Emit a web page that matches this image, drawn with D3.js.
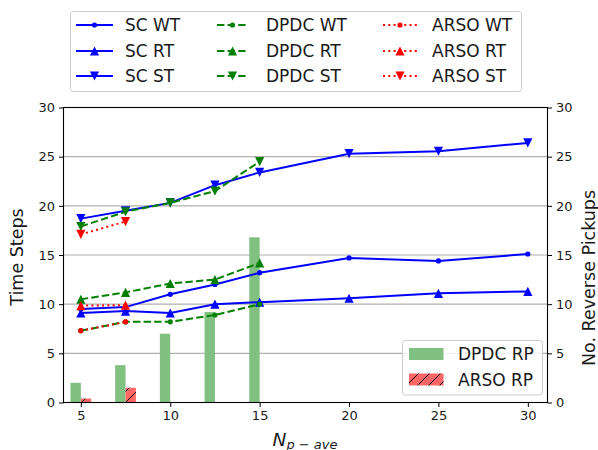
<!DOCTYPE html>
<html>
<head>
<meta charset="utf-8">
<script src="https://cdn.jsdelivr.net/npm/d3@7"></script>
<style>
body{margin:0;background:#fff;}
text{font-family:"DejaVu Sans",sans-serif;fill:#1a1a1a;}
</style>
</head>
<body>
<script>
// data
var xsSC=[5,7.5,10,12.5,15,20,25,30];
var scWT=[9.5,9.7,11.0,12.0,13.2,14.7,14.4,15.1];
var scRT=[9.1,9.3,9.1,10.0,10.2,10.6,11.1,11.3];
var scST=[18.7,19.5,20.3,22.1,23.4,25.3,25.55,26.4];
var xsDPDC=[5,7.5,10,12.5,15];
var dpdcWT=[7.3,8.2,8.2,8.9,10.0];
var dpdcRT=[10.5,11.2,12.1,12.5,14.2];
var dpdcST=[17.9,19.4,20.3,21.5,24.5];
var xsARSO=[5,7.5];
var arsoWT=[7.3,8.2];
var arsoRT=[9.85,9.9];
var arsoST=[17.1,18.4];
var dpdcRP=[2.0,3.8,7.0,9.2,16.8];
var arsoRP=[0.4,1.5];
var xTicks=[5,10,15,20,25,30];
var yTicks=[0,5,10,15,20,25,30];

var W=598,H=450;
var pL=63.5,pR=547.5,pT=107.5,pB=402.5;
var barW=0.58;

var svg=d3.select("body").append("svg")
    .attr("width",W)
    .attr("height",H);

var x=d3.scaleLinear().domain([4.03,31.1]).range([pL,pR]);
var y=d3.scaleLinear().domain([0,30]).range([pB,pT]);
var y2=d3.scaleLinear().domain([0,30]).range([pB,pT]);

// hatch pattern for ARSO RP
var defs=svg.append("defs");
var pat=defs.append("pattern")
    .attr("id","hatch")
    .attr("patternUnits","userSpaceOnUse")
    .attr("width",11)
    .attr("height",11);
pat.append("rect").attr("width",11).attr("height",11).attr("fill","#ff6666");
pat.append("path")
    .attr("d","M-1,12 L12,-1 M-3,3 L3,-3 M8,14 L14,8")
    .attr("stroke","#000")
    .attr("stroke-width",1);

// grid
svg.append("g").selectAll("line")
    .data(yTicks.slice(1,-1))
    .enter().append("line")
    .attr("x1",pL).attr("x2",pR)
    .attr("y1",function(d){return y(d);})
    .attr("y2",function(d){return y(d);})
    .attr("stroke","#b0b0b0")
    .attr("stroke-width",1.1);

// bars (right axis)
svg.append("g").selectAll("rect")
    .data(dpdcRP)
    .enter().append("rect")
    .attr("x",function(d,i){return x(xsDPDC[i]-barW);})
    .attr("width",x(barW)-x(0))
    .attr("y",function(d){return y2(d);})
    .attr("height",function(d){return y2(0)-y2(d);})
    .attr("fill","#80c080");
svg.append("g").selectAll("rect")
    .data(arsoRP)
    .enter().append("rect")
    .attr("x",function(d,i){return x(xsARSO[i]);})
    .attr("width",x(barW)-x(0))
    .attr("y",function(d){return y2(d);})
    .attr("height",function(d){return y2(0)-y2(d);})
    .attr("fill","url(#hatch)");

// series
var series=[
  {name:"SC WT",xs:xsSC,v:scWT,col:"#0000ff",dash:null,mk:"dot"},
  {name:"SC RT",xs:xsSC,v:scRT,col:"#0000ff",dash:null,mk:"up"},
  {name:"SC ST",xs:xsSC,v:scST,col:"#0000ff",dash:null,mk:"down"},
  {name:"DPDC WT",xs:xsDPDC,v:dpdcWT,col:"#008000",dash:"7.4,3.2",mk:"dot"},
  {name:"DPDC RT",xs:xsDPDC,v:dpdcRT,col:"#008000",dash:"7.4,3.2",mk:"up"},
  {name:"DPDC ST",xs:xsDPDC,v:dpdcST,col:"#008000",dash:"7.4,3.2",mk:"down"},
  {name:"ARSO WT",xs:xsARSO,v:arsoWT,col:"#ff0000",dash:"2,3.3",mk:"dot"},
  {name:"ARSO RT",xs:xsARSO,v:arsoRT,col:"#ff0000",dash:"2,3.3",mk:"up"},
  {name:"ARSO ST",xs:xsARSO,v:arsoST,col:"#ff0000",dash:"2,3.3",mk:"down"}
];

function marker(g,type,cx,cy,col){
  var s=4.6;
  if(type=="dot"){
    g.append("circle").attr("cx",cx).attr("cy",cy).attr("r",2.6).attr("fill",col);
  }else if(type=="up"){
    g.append("path").attr("d","M"+cx+","+(cy-s)+"L"+(cx-s)+","+(cy+s)+"L"+(cx+s)+","+(cy+s)+"Z").attr("fill",col);
  }else{
    g.append("path").attr("d","M"+cx+","+(cy+s)+"L"+(cx-s)+","+(cy-s)+"L"+(cx+s)+","+(cy-s)+"Z").attr("fill",col);
  }
}

var line=d3.line().x(function(d){return x(d[0]);}).y(function(d){return y(d[1]);});
series.forEach(function(s){
  var pts=s.xs.map(function(d,i){return [d,s.v[i]];});
  var g=svg.append("g");
  g.append("path")
    .attr("d",line(pts))
    .attr("fill","none")
    .attr("stroke",s.col)
    .attr("stroke-width",2)
    .attr("stroke-dasharray",s.dash);
  pts.forEach(function(p){marker(g,s.mk,x(p[0]),y(p[1]),s.col);});
});

// frame and axes
svg.append("rect")
    .attr("x",pL).attr("y",pT)
    .attr("width",pR-pL).attr("height",pB-pT)
    .attr("fill","none").attr("stroke","#000").attr("stroke-width",1.1);

var axB=svg.append("g").attr("transform","translate(0,"+pB+")")
    .call(d3.axisBottom(x).tickValues(xTicks).tickSize(4.5).tickPadding(4));
var axL=svg.append("g").attr("transform","translate("+pL+",0)")
    .call(d3.axisLeft(y).tickValues(yTicks).tickSize(4.5).tickPadding(4));
var axR=svg.append("g").attr("transform","translate("+pR+",0)")
    .call(d3.axisRight(y2).tickValues(yTicks).tickSize(4.5).tickPadding(4));
[axB,axL,axR].forEach(function(a){
  a.select(".domain").remove();
  a.selectAll("text").style("font-size","13px").style("font-family","DejaVu Sans").attr("fill","#1a1a1a");
  a.selectAll("line").attr("stroke","#000");
});

// axis titles
svg.append("text")
    .attr("transform","translate(23,257) rotate(-90)")
    .attr("text-anchor","middle")
    .style("font-size","17.5px")
    .text("Time Steps");
svg.append("text")
    .attr("transform","translate(595,278) rotate(-90)")
    .attr("text-anchor","middle")
    .style("font-size","17.5px")
    .text("No. Reverse Pickups");
var xl=svg.append("text")
    .attr("x",305).attr("y",446)
    .attr("text-anchor","middle")
    .style("font-style","italic")
    .style("font-size","18.5px");
xl.append("tspan").text("N");
xl.append("tspan").attr("dy",3).style("font-size","13px").text("p \u2212 ave");

// top legend
var lg=svg.append("g");
lg.append("rect")
    .attr("x",70.5).attr("y",11.5)
    .attr("width",451).attr("height",80)
    .attr("rx",3)
    .attr("fill","#fff").attr("fill-opacity",0.8)
    .attr("stroke","#cccccc");
var colX=[[76,113,125],[217,248,266],[383,417,432]];
var rowY=[25,51,76];
series.forEach(function(s,i){
  var c=colX[Math.floor(i/3)],ry=rowY[i%3];
  lg.append("line")
    .attr("x1",c[0]).attr("x2",c[1])
    .attr("y1",ry).attr("y2",ry)
    .attr("stroke",s.col).attr("stroke-width",2)
    .attr("stroke-dasharray",s.dash);
  marker(lg,s.mk,(c[0]+c[1])/2,ry,s.col);
  lg.append("text")
    .attr("x",c[2]).attr("y",ry+6)
    .style("font-size","17px")
    .text(s.name);
});

// bar legend
var bl=svg.append("g");
bl.append("rect")
    .attr("x",402.5).attr("y",340.5)
    .attr("width",140).attr("height",54.5)
    .attr("rx",3)
    .attr("fill","#fff").attr("fill-opacity",0.8)
    .attr("stroke","#cccccc");
bl.append("rect").attr("x",409).attr("y",348).attr("width",34.5).attr("height",12).attr("fill","#80c080");
bl.append("rect").attr("x",409).attr("y",373.5).attr("width",34.5).attr("height",12).attr("fill","url(#hatch)");
bl.append("text").attr("x",458).attr("y",360).style("font-size","17px").text("DPDC RP");
bl.append("text").attr("x",458).attr("y",385.5).style("font-size","17px").text("ARSO RP");
</script>
</body>
</html>
